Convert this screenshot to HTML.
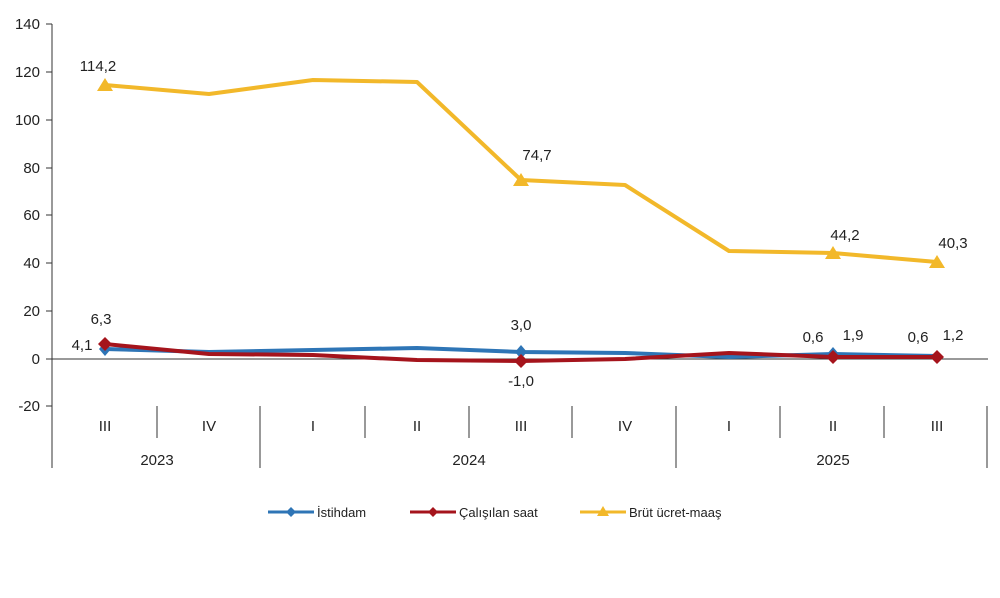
<!DOCTYPE html>
<html><head><meta charset="utf-8"><style>body{margin:0;background:#fff}svg text{font-family:"Liberation Sans",sans-serif;fill:#222}</style></head><body>
<svg width="1000" height="593" viewBox="0 0 1000 593">
<g font-size="15" text-anchor="end">
<text x="40" y="29">140</text><text x="40" y="77">120</text><text x="40" y="125">100</text><text x="40" y="173">80</text><text x="40" y="220">60</text><text x="40" y="268">40</text><text x="40" y="316">20</text><text x="40" y="364">0</text><text x="40" y="411">-20</text>
</g>
<g stroke="#333" stroke-width="1">
<line x1="52" y1="24" x2="52" y2="468"/>
<line x1="52" y1="359" x2="988" y2="359"/>
<line x1="46" y1="24" x2="52" y2="24"/><line x1="46" y1="72" x2="52" y2="72"/><line x1="46" y1="120" x2="52" y2="120"/><line x1="46" y1="168" x2="52" y2="168"/><line x1="46" y1="215" x2="52" y2="215"/><line x1="46" y1="263" x2="52" y2="263"/><line x1="46" y1="311" x2="52" y2="311"/><line x1="46" y1="359" x2="52" y2="359"/><line x1="46" y1="406" x2="52" y2="406"/>
<line x1="157" y1="406" x2="157" y2="438"/><line x1="365" y1="406" x2="365" y2="438"/><line x1="469" y1="406" x2="469" y2="438"/><line x1="572" y1="406" x2="572" y2="438"/><line x1="780" y1="406" x2="780" y2="438"/><line x1="884" y1="406" x2="884" y2="438"/>
<line x1="260" y1="406" x2="260" y2="468"/><line x1="676" y1="406" x2="676" y2="468"/><line x1="987" y1="406" x2="987" y2="468"/>
</g>
<g font-size="15" text-anchor="middle">
<text x="105" y="431">III</text><text x="209" y="431">IV</text><text x="313" y="431">I</text><text x="417" y="431">II</text><text x="521" y="431">III</text><text x="625" y="431">IV</text><text x="729" y="431">I</text><text x="833" y="431">II</text><text x="937" y="431">III</text>
<text x="157" y="465">2023</text><text x="469" y="465">2024</text><text x="833" y="465">2025</text>
</g>
<polyline fill="none" stroke="#F2B82A" stroke-width="4" stroke-linejoin="round" points="105,85 209,94 313,80 417,82 521,180 625,185 729,251 833,253 937,262"/>
<polyline fill="none" stroke="#2E75B6" stroke-width="4" stroke-linejoin="round" points="105,349 209,352 313,350 417,348 521,352 625,353 729,357 833,354 937,356"/>
<polyline fill="none" stroke="#A5141C" stroke-width="4" stroke-linejoin="round" points="105,344 209,354 313,355 417,360 521,361 625,359 729,353 833,357 937,357"/>
<g fill="#F2B82A"><path d="M105,78l8,13h-16z"/><path d="M521,173l8,13h-16z"/><path d="M833,246l8,13h-16z"/><path d="M937,255l8,13h-16z"/></g>
<g fill="#2E75B6"><path d="M105,342l6,7-6,7-6-7z"/><path d="M521,345l6,7-6,7-6-7z"/><path d="M833,347l6,7-6,7-6-7z"/></g>
<g fill="#A5141C"><path d="M105,337l7,7-7,7-7-7z"/><path d="M521,354l7,7-7,7-7-7z"/><path d="M833,350l7,7-7,7-7-7z"/><path d="M937,350l7,7-7,7-7-7z"/></g>
<g font-size="15" text-anchor="middle">
<text x="98" y="71">114,2</text><text x="537" y="160">74,7</text><text x="845" y="240">44,2</text><text x="953" y="248">40,3</text>
<text x="101" y="324">6,3</text><text x="82" y="350">4,1</text><text x="521" y="330">3,0</text><text x="521" y="386">-1,0</text>
<text x="813" y="342">0,6</text><text x="853" y="340">1,9</text><text x="918" y="342">0,6</text><text x="953" y="340">1,2</text>
</g>
<g font-size="13">
<line x1="268" y1="512" x2="314" y2="512" stroke="#2E75B6" stroke-width="3"/><path d="M291,507l5,5-5,5-5-5z" fill="#2E75B6"/><text x="317" y="517">İstihdam</text>
<line x1="410" y1="512" x2="456" y2="512" stroke="#A5141C" stroke-width="3"/><path d="M433,507l5,5-5,5-5-5z" fill="#A5141C"/><text x="459" y="517">Çalışılan saat</text>
<line x1="580" y1="512" x2="626" y2="512" stroke="#F2B82A" stroke-width="3"/><path d="M603,506l6,10h-12z" fill="#F2B82A"/><text x="629" y="517">Brüt ücret-maaş</text>
</g>
</svg>
</body></html>
